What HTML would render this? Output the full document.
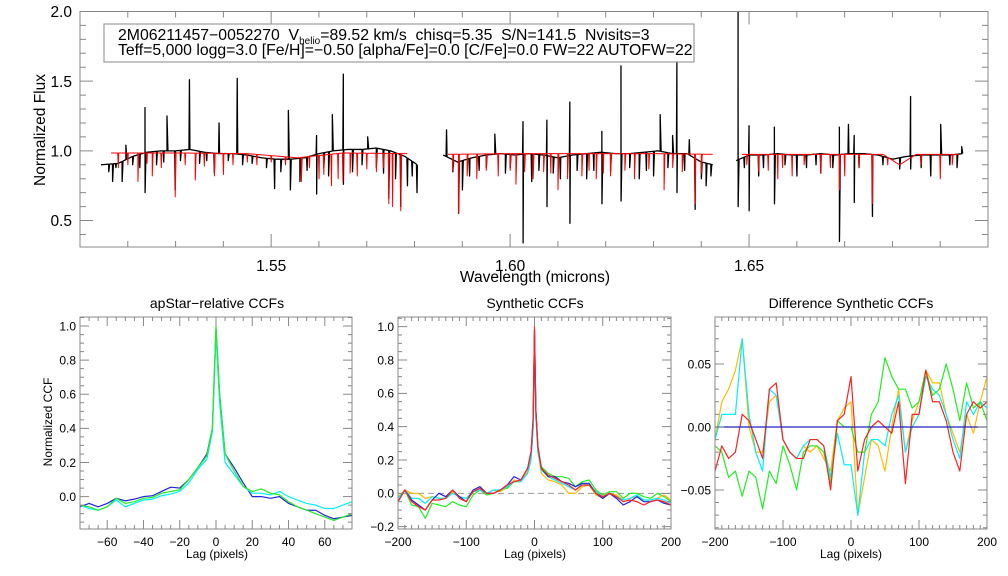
<!DOCTYPE html>
<html><head><meta charset="utf-8">
<style>
html,body{margin:0;padding:0;background:#fff;}
svg{display:block;font-family:"Liberation Sans",sans-serif;}
</style></head>
<body>
<svg id="chart" width="1008" height="576" viewBox="0 0 1008 576" xmlns="http://www.w3.org/2000/svg">
<rect width="1008" height="576" fill="#fff"/>
<g id="top-panel"></g>
<g id="p1"></g>
<g id="p2"></g>
<g id="p3"></g>
<g>
<rect x="104" y="24" width="590" height="38" fill="#fff" stroke="#888" stroke-width="1"/>
<text x="118" y="40" font-size="15.8">2M06211457−0052270&#160;&#160;V<tspan font-size="10" dy="4">helio</tspan><tspan dy="-4">=89.52 km/s&#160;&#160;chisq=5.35&#160;&#160;S/N=141.5&#160;&#160;Nvisits=3</tspan></text>
<text x="118" y="55" font-size="15.8">Teff=5,000 logg=3.0 [Fe/H]=−0.50 [alpha/Fe]=0.0 [C/Fe]=0.0 FW=22 AUTOFW=22</text>
</g>
<text x="535" y="282" font-size="15.5" text-anchor="middle">Wavelength (microns)</text>
<text transform="translate(45,130) rotate(-90)" font-size="15.5" text-anchor="middle">Normalized Flux</text>
<text x="217" y="308" font-size="14" text-anchor="middle">apStar−relative CCFs</text>
<text x="535" y="308" font-size="14" text-anchor="middle">Synthetic CCFs</text>
<text x="851" y="308" font-size="14" text-anchor="middle">Difference Synthetic CCFs</text>
<text transform="translate(52,422) rotate(-90)" font-size="12" text-anchor="middle">Normalized CCF</text>
<text x="217" y="558" font-size="12" text-anchor="middle">Lag (pixels)</text>
<text x="535" y="558" font-size="12" text-anchor="middle">Lag (pixels)</text>
<text x="851" y="558" font-size="12" text-anchor="middle">Lag (pixels)</text>
</svg>
<script>
// ---------- spectrum data ----------
const chip1Wl=[1.5144,1.518,1.521,1.524,1.527,1.530,1.533,1.536,1.539,1.542,1.545,1.548,1.551,1.554,1.557,1.560,1.563,1.566,1.569,1.572,1.575,1.578,1.5806];
const chip1Flux=[0.90,0.91,0.96,0.99,1.00,1.00,1.01,0.99,0.98,0.98,0.97,0.95,0.94,0.94,0.95,0.98,1.00,1.01,1.01,1.02,1.00,0.96,0.90];
const chip1PeakWl=[1.5196,1.5236,1.5282,1.5329,1.5391,1.5429,1.5536,1.5595,1.5628,1.5651,1.5702];
const chip1PeakHi=[1.04,1.31,1.25,1.51,1.20,1.52,1.29,1.11,1.26,1.55,1.10];
const chip1DipWl=[1.5168,1.5188,1.5236,1.5299,1.5381,1.5507,1.5540,1.5560,1.5595,1.5651,1.5746,1.5771,1.5785,1.5805,
  1.5160,1.5175,1.5210,1.5225,1.5260,1.5275,1.5310,1.5350,1.5365,1.5410,1.5440,1.5460,1.5490,1.5520,1.5575,1.5610,1.5620,1.5670,1.5690,1.5720,1.5735,1.5760,1.5795];
const chip1DipLo=[0.78,0.78,0.70,0.72,0.84,0.73,0.72,0.78,0.69,0.76,0.66,0.60,0.75,0.70,
  0.85,0.88,0.90,0.88,0.90,0.92,0.93,0.91,0.93,0.93,0.90,0.91,0.88,0.85,0.86,0.88,0.82,0.85,0.90,0.88,0.84,0.80,0.82];
const model1Wl=[1.5165,1.530,1.545,1.5555,1.565,1.5785];
const model1Flux=[0.985,0.985,0.98,0.95,0.985,0.98];
const model1DipWl=[1.5221,1.5251,1.5299,1.5341,1.5381,1.5400,1.5563,1.5626,1.5650,1.5746,1.5754,1.5771,1.5470,1.5600,
  1.5180,1.5200,1.5240,1.5270,1.5320,1.5360,1.5420,1.5450,1.5500,1.5530,1.5580,1.5610,1.5640,1.5665,1.5680,1.5700,1.5720,1.5735];
const model1DipLo=[0.78,0.82,0.67,0.79,0.82,0.83,0.78,0.75,0.78,0.62,0.60,0.57,0.90,0.80,
  0.88,0.90,0.91,0.88,0.90,0.89,0.90,0.92,0.92,0.90,0.88,0.83,0.80,0.84,0.82,0.87,0.85,0.88];

const chip2Wl=[1.586,1.589,1.592,1.595,1.598,1.601,1.604,1.607,1.610,1.613,1.616,1.619,1.622,1.625,1.628,1.631,1.634,1.637,1.640,1.6425];
const chip2Flux=[0.97,0.92,0.95,0.97,0.98,0.97,0.98,0.97,0.95,0.97,0.98,0.99,0.98,0.98,0.99,1.00,0.98,0.98,0.92,0.90];
const chip2PeakWl=[1.5867,1.5968,1.6027,1.6077,1.6125,1.6192,1.6232,1.6314,1.6340,1.6349,1.6375];
const chip2PeakHi=[1.15,1.12,1.21,1.22,1.35,1.14,1.61,1.26,1.11,1.63,1.08];
const chip2DipWl=[1.5892,1.5900,1.5990,1.6027,1.6045,1.6077,1.6125,1.6160,1.6192,1.6232,1.6270,1.6300,1.6349,1.6387,1.6410,
  1.5880,1.5915,1.5935,1.5950,1.6000,1.6060,1.6090,1.6105,1.6140,1.6175,1.6210,1.6250,1.6285,1.6330,1.6365,1.6400,1.6420];
const chip2DipLo=[0.55,0.72,0.84,0.34,0.78,0.60,0.48,0.80,0.62,0.64,0.80,0.82,0.70,0.58,0.75,
  0.85,0.82,0.86,0.88,0.88,0.86,0.84,0.80,0.86,0.86,0.85,0.88,0.86,0.88,0.86,0.80,0.82];
const model2Wl=[1.587,1.600,1.615,1.630,1.6425];
const model2Flux=[0.975,0.98,0.98,0.98,0.975];
const model2DipWl=[1.5892,1.5930,1.5975,1.6012,1.6048,1.6070,1.6100,1.6150,1.6180,1.6210,1.6260,1.6322,1.6387,
  1.5880,1.5910,1.5950,1.6000,1.6030,1.6085,1.6120,1.6165,1.6195,1.6240,1.6290,1.6340,1.6360,1.6400];
const model2DipLo=[0.55,0.80,0.82,0.76,0.80,0.85,0.72,0.82,0.80,0.82,0.80,0.72,0.62,
  0.86,0.82,0.86,0.86,0.85,0.84,0.80,0.86,0.84,0.86,0.87,0.88,0.85,0.84];

const chip3Wl=[1.6473,1.650,1.653,1.656,1.659,1.662,1.665,1.668,1.671,1.674,1.677,1.680,1.683,1.686,1.689,1.692,1.6947];
const chip3Flux=[0.93,0.97,0.97,0.98,0.97,0.97,0.98,0.97,0.98,0.98,0.97,0.94,0.96,0.97,0.97,0.97,0.98];
const chip3PeakWl=[1.6477,1.6500,1.6553,1.6689,1.6708,1.6720,1.6838,1.6901,1.6945];
const chip3PeakHi=[2.0,1.18,1.17,1.17,1.19,1.11,1.39,1.19,1.03];
const chip3DipWl=[1.6477,1.6500,1.6520,1.6553,1.6600,1.6650,1.6689,1.6720,1.6758,1.6815,1.6838,1.6880,
  1.6490,1.6530,1.6575,1.6620,1.6640,1.6675,1.6730,1.6780,1.6860,1.6920,1.6935];
const chip3DipLo=[0.60,0.57,0.82,0.62,0.82,0.84,0.35,0.63,0.53,0.87,0.87,0.82,
  0.88,0.88,0.90,0.88,0.90,0.88,0.88,0.90,0.88,0.90,0.88];
const model3Wl=[1.6485,1.665,1.678,1.6815,1.685,1.694];
const model3Flux=[0.975,0.975,0.975,0.90,0.975,0.975];
const model3DipWl=[1.6520,1.6540,1.6560,1.6590,1.6650,1.6689,1.6700,1.6758,1.6900,
  1.6495,1.6570,1.6615,1.6670,1.6730,1.6790,1.6860,1.6925];
const model3DipLo=[0.85,0.86,0.80,0.82,0.84,0.72,0.82,0.62,0.80,
  0.90,0.88,0.90,0.88,0.88,0.90,0.90,0.90];

// ---------- CCF data ----------
const lag1=[-75,-70,-65,-60,-55,-50,-45,-40,-35,-30,-25,-20,-15,-10,-5,-2,0,2,5,10,15,20,25,30,35,40,45,50,55,60,65,70,75];
const ccf1Blue=[-0.06,-0.04,-0.06,-0.04,-0.01,-0.025,-0.015,0.0,0.005,0.03,0.055,0.05,0.10,0.17,0.25,0.40,0.98,0.60,0.25,0.17,0.08,0.0,0.0,-0.01,0.0,-0.04,-0.06,-0.08,-0.08,-0.11,-0.13,-0.12,-0.11];
const ccf1Cyan=[-0.05,-0.07,-0.08,-0.06,-0.02,-0.06,-0.04,-0.02,-0.015,0.005,0.015,0.03,0.08,0.16,0.22,0.38,0.95,0.55,0.20,0.13,0.06,0.02,0.02,0.01,0.03,0.0,-0.02,-0.04,-0.05,-0.07,-0.07,-0.05,-0.03];
const ccf1Green=[-0.05,-0.06,-0.08,-0.06,-0.01,-0.04,-0.03,-0.01,-0.005,0.02,0.03,0.04,0.10,0.17,0.24,0.40,1.00,0.60,0.25,0.15,0.06,0.03,0.045,0.02,0.01,-0.03,-0.06,-0.08,-0.10,-0.12,-0.14,-0.12,-0.10];

const lag2=[-200,-190,-180,-170,-160,-150,-140,-130,-120,-110,-100,-90,-80,-70,-60,-50,-40,-30,-20,-10,-5,-2,0,2,5,10,20,30,40,50,60,70,80,90,100,110,120,130,140,150,160,170,180,190,200];
const ccf2Blue=[-0.05,0.02,-0.04,-0.07,-0.10,-0.04,0.0,-0.02,0.02,-0.02,-0.05,0.02,0.04,0.0,0.0,0.02,0.05,0.10,0.08,0.15,0.25,0.45,0.98,0.50,0.28,0.15,0.10,0.10,0.07,0.06,0.04,0.06,0.06,0.0,-0.03,0.0,-0.03,-0.07,-0.05,-0.02,-0.05,-0.05,-0.04,-0.06,-0.07];
const ccf2Cyan=[-0.03,0.02,-0.03,-0.03,-0.06,-0.02,-0.03,-0.03,0.0,-0.02,-0.03,0.01,0.02,0.0,0.02,0.02,0.04,0.07,0.07,0.12,0.20,0.38,0.90,0.45,0.25,0.14,0.10,0.08,0.06,0.04,0.02,0.06,0.05,0.01,-0.02,0.0,-0.02,-0.04,-0.03,-0.01,-0.04,-0.04,-0.03,-0.04,-0.06];
const ccf2Green=[-0.05,0.02,-0.07,-0.08,-0.15,-0.06,-0.07,-0.08,-0.05,-0.07,-0.08,-0.01,0.02,-0.01,0.0,0.02,0.03,0.07,0.07,0.13,0.22,0.40,0.95,0.50,0.28,0.16,0.12,0.10,0.10,0.09,0.04,0.07,0.08,0.02,-0.01,0.01,0.01,-0.03,0.0,0.0,-0.02,-0.03,0.0,-0.02,-0.05];
const ccf2Orange=[-0.02,0.02,0.0,0.0,-0.03,-0.02,-0.03,-0.03,0.01,-0.02,-0.03,0.01,0.03,0.0,0.02,0.01,0.04,0.08,0.07,0.13,0.22,0.40,0.98,0.48,0.25,0.12,0.08,0.07,0.05,0.0,0.0,0.04,0.05,-0.01,-0.03,0.0,-0.01,-0.04,-0.03,-0.02,-0.04,-0.04,-0.03,-0.01,-0.04];
const ccf2Red=[-0.05,0.02,-0.05,-0.08,-0.10,-0.04,-0.04,-0.03,0.02,-0.03,-0.05,0.01,0.03,0.0,0.0,0.02,0.05,0.07,0.08,0.15,0.25,0.45,1.00,0.50,0.28,0.15,0.11,0.09,0.07,0.05,0.02,0.05,0.05,0.0,-0.02,0.0,-0.02,-0.05,-0.04,-0.05,-0.07,-0.05,-0.04,-0.05,-0.07];

const lag3=[-200,-190,-180,-170,-160,-150,-140,-130,-120,-110,-100,-90,-80,-70,-60,-50,-40,-30,-20,-10,0,10,20,30,40,50,60,70,80,90,100,110,120,130,140,150,160,170,180,190,200];
const diffBlue=[0,0,0,0,0,0,0,0,0,0,0,0,0,0,0,0,0,0,0,0,0,0,0,0,0,0,0,0,0,0,0,0,0,0,0,0,0,0,0,0,0];
const diffOrange=[-0.01,0.02,0.03,0.045,0.07,0.0,-0.02,-0.02,0.02,0.025,-0.01,-0.02,-0.025,-0.015,-0.02,-0.015,-0.025,-0.035,0.005,0.015,0.02,-0.07,-0.04,-0.01,-0.015,-0.035,0.0,0.03,-0.02,0.005,0.02,0.045,0.035,0.035,0.01,-0.005,-0.02,0.01,-0.005,0.02,0.04];
const diffCyan=[-0.01,0.01,0.01,0.01,0.07,0.01,-0.02,-0.035,0.03,0.025,-0.01,-0.02,-0.025,-0.015,-0.01,-0.01,-0.015,-0.04,-0.005,-0.03,-0.03,-0.07,-0.02,-0.01,-0.01,-0.015,0.01,0.025,-0.02,0.0,0.01,0.04,0.03,0.025,0.01,-0.01,-0.025,0.02,0.01,0.02,0.015];
const diffGreen=[-0.015,-0.02,-0.04,-0.035,-0.055,-0.035,-0.04,-0.065,-0.035,-0.045,-0.015,-0.03,-0.05,-0.02,-0.015,-0.015,-0.02,-0.045,0.005,0.0,0.0,-0.02,-0.02,0.01,0.02,0.055,0.04,0.03,0.03,0.015,0.02,0.045,0.025,0.03,0.05,0.03,0.005,0.035,0.015,0.02,0.005];
const diffRed=[-0.035,-0.015,-0.025,-0.02,0.01,0.005,-0.01,-0.025,0.03,0.035,-0.01,-0.02,-0.025,-0.025,-0.01,-0.01,-0.015,-0.05,0.005,0.01,0.04,-0.035,-0.01,0.0,0.005,0.0,-0.005,0.02,-0.045,0.01,0.01,0.045,0.02,0.02,0.005,-0.02,-0.035,0.01,0.02,0.015,0.02];

// ---------- helpers ----------
const NS="http://www.w3.org/2000/svg";
function mk(tag,parent){const e=document.createElementNS(NS,tag);parent.appendChild(e);return e;}
function scale(d0,d1,r0,r1){return v=>r0+(v-d0)*(r1-r0)/(d1-d0);}
function interp(ws,fs,w){
  if(w<=ws[0])return fs[0];
  for(let i=1;i<ws.length;i++){if(w<=ws[i]){const t=(w-ws[i-1])/(ws[i]-ws[i-1]);return fs[i-1]+t*(fs[i]-fs[i-1]);}}
  return fs[fs.length-1];
}
function fmt(v,d){const s=Math.abs(v).toFixed(d);return (v<-1e-9?"−":"")+s;}

function axes(g,box,xs,ys,o){
  const [x0,y0,x1,y1]=[box.l,box.t,box.r,box.b];
  const frame=mk('rect',g);
  frame.setAttribute('x',x0);frame.setAttribute('y',y0);frame.setAttribute('width',x1-x0);frame.setAttribute('height',y1-y0);
  frame.setAttribute('fill','none');frame.setAttribute('stroke','#888');frame.setAttribute('stroke-width','1');
  
  
  let d="";
  for(let v=o.xmin0;v<=o.xmax0+1e-9;v+=o.xminStep){const x=xs(v);if(x<x0-0.5||x>x1+0.5)continue;d+=`M${x},${y1}v${-o.minLen}M${x},${y0}v${o.minLen}`;}
  o.xmaj.forEach(v=>{const x=xs(v);d+=`M${x},${y1}v${-o.majLen}M${x},${y0}v${o.majLen}`;});
  for(let v=o.ymin0;v<=o.ymax0+1e-9;v+=o.yminStep){const y=ys(v);if(y<y0-0.5||y>y1+0.5)continue;d+=`M${x0},${y}h${o.minLen}M${x1},${y}h${-o.minLen}`;}
  o.ymaj.forEach(v=>{const y=ys(v);d+=`M${x0},${y}h${o.majLen}M${x1},${y}h${-o.majLen}`;});
  const t=mk('path',g);t.setAttribute('d',d);t.setAttribute('stroke','#888');t.setAttribute('fill','none');t.setAttribute('stroke-width','1');
  
  
  o.xmaj.forEach(v=>{const tx=mk('text',g);tx.setAttribute('x',xs(v));tx.setAttribute('y',y1+o.xlabDy);tx.setAttribute('font-size',o.fs);tx.setAttribute('text-anchor','middle');tx.textContent=fmt(v,o.xd);
    
    });
  o.ymaj.forEach(v=>{const tx=mk('text',g);tx.setAttribute('x',x0-o.ylabDx);tx.setAttribute('y',ys(v)+o.fs*0.36);tx.setAttribute('font-size',o.fs);tx.setAttribute('text-anchor','end');tx.textContent=fmt(v,o.yd);
    
    });
}
function line(g,xs,ys,xv,yv,color,name,w){
  const p=mk('polyline',g);
  p.setAttribute('points',xv.map((x,i)=>xs(x).toFixed(2)+','+ys(yv[i]).toFixed(2)).join(' '));
  p.setAttribute('fill','none');p.setAttribute('stroke',color);p.setAttribute('stroke-width',w||1.2);p.setAttribute('stroke-linejoin','round');
  
  
  return p;
}
function specPts(ws,fs,peakW,peakV,dipW,dipV){
  const pts=[];
  for(let w=ws[0];w<=ws[ws.length-1]+1e-9;w+=0.0002)pts.push([w,interp(ws,fs,w)]);
  peakW.forEach((w,i)=>pts.push([w,peakV[i]]));
  dipW.forEach((w,i)=>pts.push([w+0.00002,dipV[i]]));
  pts.sort((a,b)=>a[0]-b[0]);
  return pts;
}

// ---------- top panel ----------
(function(){
  const g=document.getElementById('top-panel');
  const box={l:80,t:11.5,r:988,b:247};
  const xs=scale(1.51,1.70,box.l,box.r), ys=scale(0.31,2.0,box.b,box.t);
  const chips=[[chip1Wl,chip1Flux,chip1PeakWl,chip1PeakHi,chip1DipWl,chip1DipLo,model1Wl,model1Flux,model1DipWl,model1DipLo],
               [chip2Wl,chip2Flux,chip2PeakWl,chip2PeakHi,chip2DipWl,chip2DipLo,model2Wl,model2Flux,model2DipWl,model2DipLo],
               [chip3Wl,chip3Flux,chip3PeakWl,chip3PeakHi,chip3DipWl,chip3DipLo,model3Wl,model3Flux,model3DipWl,model3DipLo]];
  chips.forEach((c,k)=>{
    const b=specPts(c[0],c[1],c[2],c[3],c[4],c[5]);
    line(g,xs,ys,b.map(p=>p[0]),b.map(p=>p[1]),'#000','observed-spectrum-chip-'+(k+1),1.3);
  });
  chips.forEach((c,k)=>{
    const r=specPts(c[6],c[7],[],[],c[8],c[9]);
    line(g,xs,ys,r.map(p=>p[0]),r.map(p=>p[1]),'#ff0000','model-spectrum-chip-'+(k+1),1);
  });
  axes(g,box,xs,ys,{xmin0:1.51,xmax0:1.70,xminStep:0.01,xmaj:[1.55,1.60,1.65],ymin0:0.4,ymax0:2.0,yminStep:0.1,ymaj:[0.5,1.0,1.5,2.0],majLen:13,minLen:6,fs:15.5,xlabDy:24,ylabDx:8,xd:2,yd:1});
})();

// ---------- CCF panels ----------
(function(){
  const g=document.getElementById('p1');
  const box={l:80,t:317,r:352,b:529};
  const xs=scale(-75,75,box.l,box.r), ys=scale(-0.19,1.053,box.b,box.t);
  line(g,xs,ys,lag1,ccf1Blue,'#2222dd','ccf-apstar-blue');
  line(g,xs,ys,lag1,ccf1Cyan,'#00f0ff','ccf-apstar-cyan');
  line(g,xs,ys,lag1,ccf1Green,'#22ee22','ccf-apstar-green');
  axes(g,box,xs,ys,{xmin0:-75,xmax0:75,xminStep:5,xmaj:[-60,-40,-20,0,20,40,60],ymin0:-0.15,ymax0:1.05,yminStep:0.05,ymaj:[0,0.2,0.4,0.6,0.8,1.0],majLen:9,minLen:4,fs:12,xlabDy:17,ylabDx:4,xd:0,yd:1});
})();
(function(){
  const g=document.getElementById('p2');
  const box={l:398,t:317,r:671,b:529};
  const xs=scale(-200,200,box.l,box.r), ys=scale(-0.214,1.058,box.b,box.t);
  const z=mk('line',g);z.setAttribute('x1',box.l);z.setAttribute('x2',box.r);z.setAttribute('y1',ys(0));z.setAttribute('y2',ys(0));
  z.setAttribute('stroke','#999');z.setAttribute('stroke-dasharray','6,4');
  
  
  line(g,xs,ys,lag2,ccf2Green,'#22ee22','ccf-synthetic-green');
  line(g,xs,ys,lag2,ccf2Orange,'#ffbb00','ccf-synthetic-orange');
  line(g,xs,ys,lag2,ccf2Cyan,'#00f0ff','ccf-synthetic-cyan');
  line(g,xs,ys,lag2,ccf2Blue,'#2222dd','ccf-synthetic-blue');
  line(g,xs,ys,lag2,ccf2Red,'#ff2222','ccf-synthetic-red');
  axes(g,box,xs,ys,{xmin0:-200,xmax0:200,xminStep:10,xmaj:[-200,-100,0,100,200],ymin0:-0.2,ymax0:1.05,yminStep:0.05,ymaj:[-0.2,0,0.2,0.4,0.6,0.8,1.0],majLen:9,minLen:4,fs:12,xlabDy:17,ylabDx:4,xd:0,yd:1});
})();
(function(){
  const g=document.getElementById('p3');
  const box={l:715,t:317,r:987,b:529};
  const xs=scale(-200,200,box.l,box.r), ys=scale(-0.081,0.0873,box.b,box.t);
  line(g,xs,ys,lag3,diffOrange,'#ffbb00','diff-ccf-orange');
  line(g,xs,ys,lag3,diffCyan,'#00f0ff','diff-ccf-cyan');
  line(g,xs,ys,lag3,diffGreen,'#22ee22','diff-ccf-green');
  line(g,xs,ys,lag3,diffRed,'#ff2222','diff-ccf-red');
  line(g,xs,ys,lag3,diffBlue,'#2222bb','diff-ccf-blue');
  axes(g,box,xs,ys,{xmin0:-200,xmax0:200,xminStep:10,xmaj:[-200,-100,0,100,200],ymin0:-0.08,ymax0:0.08,yminStep:0.01,ymaj:[-0.05,0,0.05],majLen:9,minLen:4,fs:12,xlabDy:17,ylabDx:4,xd:0,yd:2});
})();
</script>
</body></html>
